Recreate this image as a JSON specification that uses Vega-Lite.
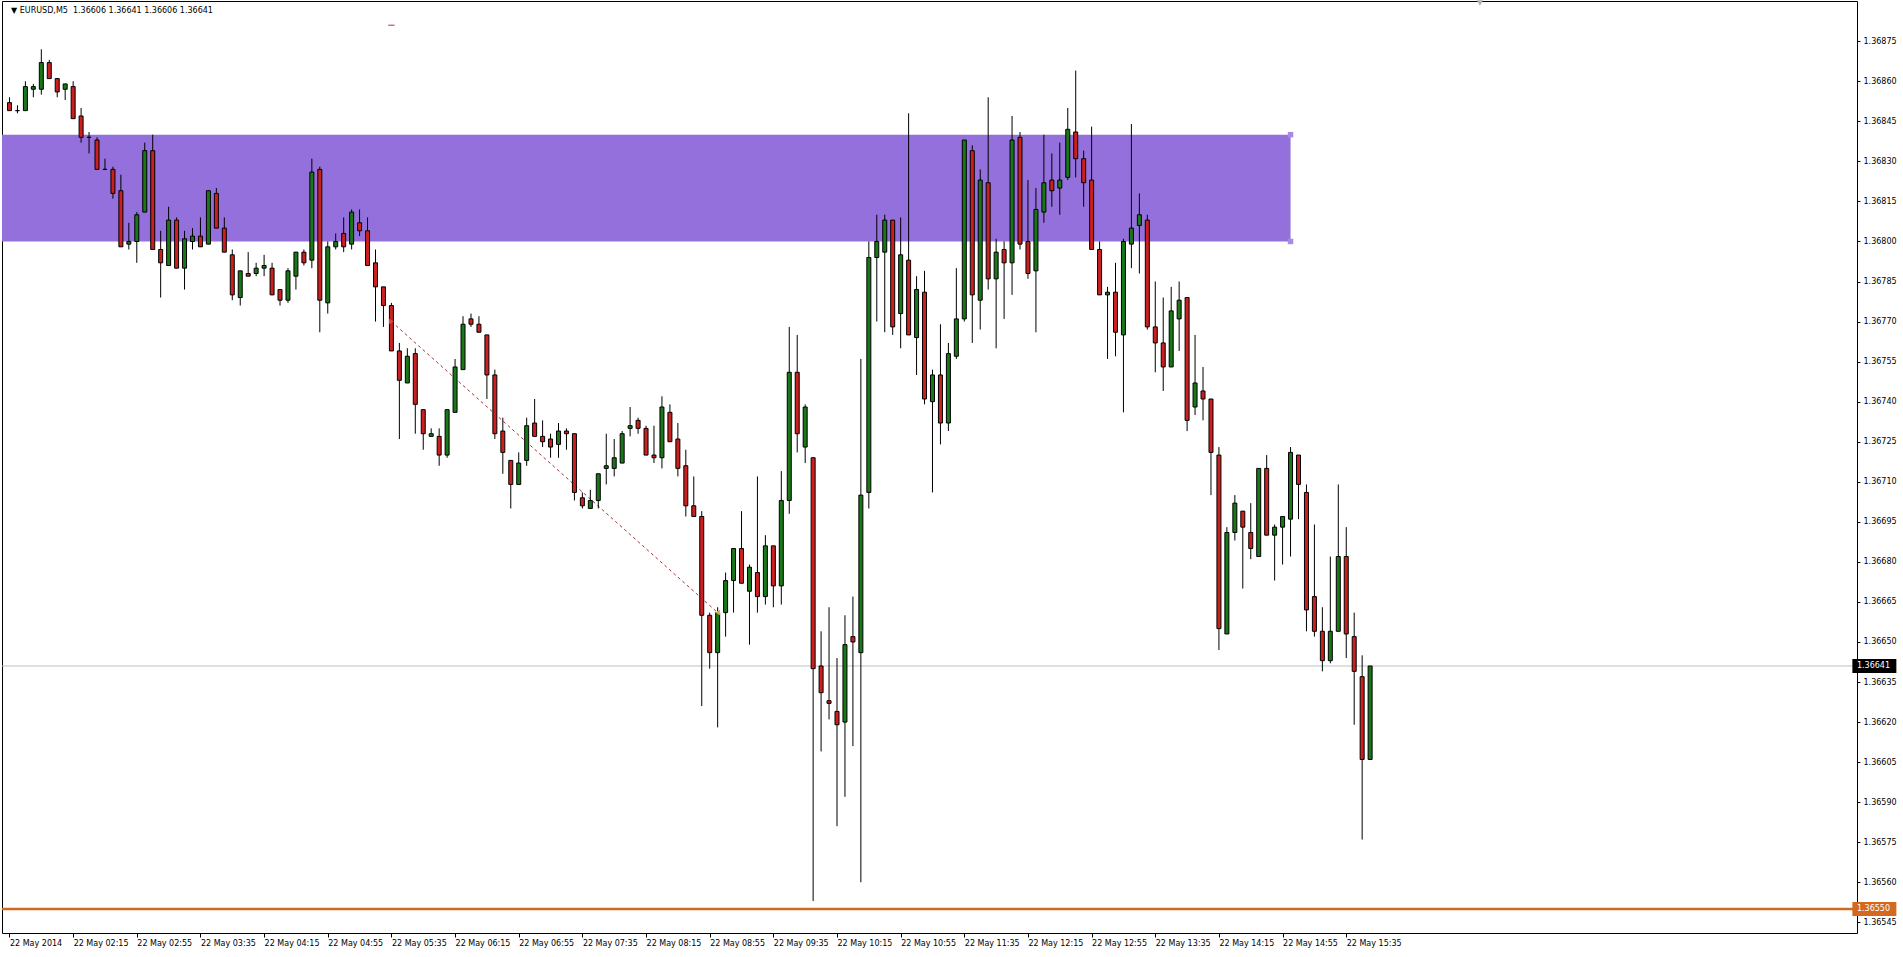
{
"$schema":"https://vega.github.io/schema/vega-lite/v6.json",
"width":1855,"height":932,
"autosize":{"type":"none"},
"padding":{"left":2,"top":1,"right":46,"bottom":24},
"background":"white",
"config":{"view":{"stroke":"#000000","strokeWidth":1},"font":"DejaVu Sans"},
"datasets":{"candles":[
{"t":"2014-05-22T01:35","o":1.36852,"h":1.36854,"l":1.36849,"c":1.36849},
{"t":"2014-05-22T01:40","o":1.36849,"h":1.36851,"l":1.36848,"c":1.36849},
{"t":"2014-05-22T01:45","o":1.36849,"h":1.36860,"l":1.36849,"c":1.36858},
{"t":"2014-05-22T01:50","o":1.36857,"h":1.36859,"l":1.36854,"c":1.36858},
{"t":"2014-05-22T01:55","o":1.36857,"h":1.36872,"l":1.36855,"c":1.36867},
{"t":"2014-05-22T02:00","o":1.36867,"h":1.36868,"l":1.36861,"c":1.36861},
{"t":"2014-05-22T02:05","o":1.36861,"h":1.36861,"l":1.36854,"c":1.36856},
{"t":"2014-05-22T02:10","o":1.36857,"h":1.36859,"l":1.36853,"c":1.36859},
{"t":"2014-05-22T02:15","o":1.36858,"h":1.36860,"l":1.36846,"c":1.36846},
{"t":"2014-05-22T02:20","o":1.36847,"h":1.36850,"l":1.36837,"c":1.36839},
{"t":"2014-05-22T02:25","o":1.36839,"h":1.36841,"l":1.36833,"c":1.36839},
{"t":"2014-05-22T02:30","o":1.36838,"h":1.36839,"l":1.36827,"c":1.36827},
{"t":"2014-05-22T02:35","o":1.36827,"h":1.36831,"l":1.36827,"c":1.36827},
{"t":"2014-05-22T02:40","o":1.36827,"h":1.36828,"l":1.36816,"c":1.36818},
{"t":"2014-05-22T02:45","o":1.36819,"h":1.36825,"l":1.36798,"c":1.36798},
{"t":"2014-05-22T02:50","o":1.36799,"h":1.36807,"l":1.36797,"c":1.36800},
{"t":"2014-05-22T02:55","o":1.36800,"h":1.36811,"l":1.36792,"c":1.36810},
{"t":"2014-05-22T03:00","o":1.36811,"h":1.36837,"l":1.36811,"c":1.36834},
{"t":"2014-05-22T03:05","o":1.36834,"h":1.36840,"l":1.36797,"c":1.36797},
{"t":"2014-05-22T03:10","o":1.36797,"h":1.36804,"l":1.36779,"c":1.36792},
{"t":"2014-05-22T03:15","o":1.36791,"h":1.36813,"l":1.36791,"c":1.36808},
{"t":"2014-05-22T03:20","o":1.36808,"h":1.36809,"l":1.36790,"c":1.36790},
{"t":"2014-05-22T03:25","o":1.36790,"h":1.36804,"l":1.36782,"c":1.36801},
{"t":"2014-05-22T03:30","o":1.36800,"h":1.36805,"l":1.36797,"c":1.36802},
{"t":"2014-05-22T03:35","o":1.36802,"h":1.36809,"l":1.36798,"c":1.36798},
{"t":"2014-05-22T03:40","o":1.36799,"h":1.36819,"l":1.36799,"c":1.36819},
{"t":"2014-05-22T03:45","o":1.36818,"h":1.36820,"l":1.36805,"c":1.36805},
{"t":"2014-05-22T03:50","o":1.36805,"h":1.36809,"l":1.36796,"c":1.36796},
{"t":"2014-05-22T03:55","o":1.36795,"h":1.36797,"l":1.36778,"c":1.36780},
{"t":"2014-05-22T04:00","o":1.36779,"h":1.36789,"l":1.36776,"c":1.36789},
{"t":"2014-05-22T04:05","o":1.36788,"h":1.36796,"l":1.36787,"c":1.36787},
{"t":"2014-05-22T04:10","o":1.36788,"h":1.36792,"l":1.36787,"c":1.36790},
{"t":"2014-05-22T04:15","o":1.36790,"h":1.36795,"l":1.36787,"c":1.36791},
{"t":"2014-05-22T04:20","o":1.36790,"h":1.36792,"l":1.36780,"c":1.36780},
{"t":"2014-05-22T04:25","o":1.36782,"h":1.36782,"l":1.36776,"c":1.36778},
{"t":"2014-05-22T04:30","o":1.36778,"h":1.36790,"l":1.36777,"c":1.36789},
{"t":"2014-05-22T04:35","o":1.36787,"h":1.36796,"l":1.36782,"c":1.36796},
{"t":"2014-05-22T04:40","o":1.36796,"h":1.36797,"l":1.36791,"c":1.36792},
{"t":"2014-05-22T04:45","o":1.36793,"h":1.36831,"l":1.36790,"c":1.36826},
{"t":"2014-05-22T04:50","o":1.36827,"h":1.36828,"l":1.36766,"c":1.36778},
{"t":"2014-05-22T04:55","o":1.36777,"h":1.36800,"l":1.36773,"c":1.36798},
{"t":"2014-05-22T05:00","o":1.36798,"h":1.36803,"l":1.36797,"c":1.36800},
{"t":"2014-05-22T05:05","o":1.36803,"h":1.36809,"l":1.36796,"c":1.36798},
{"t":"2014-05-22T05:10","o":1.36799,"h":1.36812,"l":1.36797,"c":1.36811},
{"t":"2014-05-22T05:15","o":1.36807,"h":1.36812,"l":1.36802,"c":1.36804},
{"t":"2014-05-22T05:20","o":1.36804,"h":1.36809,"l":1.36791,"c":1.36791},
{"t":"2014-05-22T05:25","o":1.36792,"h":1.36797,"l":1.36770,"c":1.36783},
{"t":"2014-05-22T05:30","o":1.36783,"h":1.36783,"l":1.36768,"c":1.36776},
{"t":"2014-05-22T05:35","o":1.36776,"h":1.36777,"l":1.36759,"c":1.36759},
{"t":"2014-05-22T05:40","o":1.36759,"h":1.36762,"l":1.36726,"c":1.36748},
{"t":"2014-05-22T05:45","o":1.36747,"h":1.36760,"l":1.36747,"c":1.36757},
{"t":"2014-05-22T05:50","o":1.36758,"h":1.36760,"l":1.36728,"c":1.36739},
{"t":"2014-05-22T05:55","o":1.36737,"h":1.36737,"l":1.36722,"c":1.36728},
{"t":"2014-05-22T06:00","o":1.36727,"h":1.36730,"l":1.36727,"c":1.36728},
{"t":"2014-05-22T06:05","o":1.36727,"h":1.36730,"l":1.36716,"c":1.36720},
{"t":"2014-05-22T06:10","o":1.36720,"h":1.36737,"l":1.36719,"c":1.36737},
{"t":"2014-05-22T06:15","o":1.36736,"h":1.36756,"l":1.36736,"c":1.36753},
{"t":"2014-05-22T06:20","o":1.36752,"h":1.36772,"l":1.36752,"c":1.36769},
{"t":"2014-05-22T06:25","o":1.36771,"h":1.36773,"l":1.36768,"c":1.36769},
{"t":"2014-05-22T06:30","o":1.36769,"h":1.36772,"l":1.36766,"c":1.36766},
{"t":"2014-05-22T06:35","o":1.36765,"h":1.36765,"l":1.36741,"c":1.36750},
{"t":"2014-05-22T06:40","o":1.36750,"h":1.36752,"l":1.36726,"c":1.36728},
{"t":"2014-05-22T06:45","o":1.36729,"h":1.36734,"l":1.36713,"c":1.36721},
{"t":"2014-05-22T06:50","o":1.36718,"h":1.36718,"l":1.36700,"c":1.36709},
{"t":"2014-05-22T06:55","o":1.36709,"h":1.36721,"l":1.36709,"c":1.36717},
{"t":"2014-05-22T07:00","o":1.36718,"h":1.36734,"l":1.36716,"c":1.36731},
{"t":"2014-05-22T07:05","o":1.36732,"h":1.36741,"l":1.36727,"c":1.36727},
{"t":"2014-05-22T07:10","o":1.36727,"h":1.36733,"l":1.36723,"c":1.36725},
{"t":"2014-05-22T07:15","o":1.36726,"h":1.36728,"l":1.36719,"c":1.36723},
{"t":"2014-05-22T07:20","o":1.36724,"h":1.36732,"l":1.36719,"c":1.36729},
{"t":"2014-05-22T07:25","o":1.36729,"h":1.36730,"l":1.36722,"c":1.36728},
{"t":"2014-05-22T07:30","o":1.36728,"h":1.36728,"l":1.36703,"c":1.36706},
{"t":"2014-05-22T07:35","o":1.36704,"h":1.36706,"l":1.36700,"c":1.36701},
{"t":"2014-05-22T07:40","o":1.36700,"h":1.36707,"l":1.36700,"c":1.36703},
{"t":"2014-05-22T07:45","o":1.36703,"h":1.36713,"l":1.36700,"c":1.36713},
{"t":"2014-05-22T07:50","o":1.36715,"h":1.36728,"l":1.36709,"c":1.36716},
{"t":"2014-05-22T07:55","o":1.36715,"h":1.36726,"l":1.36712,"c":1.36719},
{"t":"2014-05-22T08:00","o":1.36717,"h":1.36729,"l":1.36717,"c":1.36728},
{"t":"2014-05-22T08:05","o":1.36730,"h":1.36738,"l":1.36727,"c":1.36731},
{"t":"2014-05-22T08:10","o":1.36733,"h":1.36734,"l":1.36728,"c":1.36730},
{"t":"2014-05-22T08:15","o":1.36730,"h":1.36731,"l":1.36720,"c":1.36720},
{"t":"2014-05-22T08:20","o":1.36720,"h":1.36731,"l":1.36717,"c":1.36719},
{"t":"2014-05-22T08:25","o":1.36719,"h":1.36742,"l":1.36715,"c":1.36738},
{"t":"2014-05-22T08:30","o":1.36736,"h":1.36739,"l":1.36725,"c":1.36725},
{"t":"2014-05-22T08:35","o":1.36726,"h":1.36732,"l":1.36712,"c":1.36715},
{"t":"2014-05-22T08:40","o":1.36716,"h":1.36722,"l":1.36697,"c":1.36701},
{"t":"2014-05-22T08:45","o":1.36701,"h":1.36712,"l":1.36697,"c":1.36697},
{"t":"2014-05-22T08:50","o":1.36697,"h":1.36699,"l":1.36626,"c":1.36660},
{"t":"2014-05-22T08:55","o":1.36660,"h":1.36661,"l":1.36640,"c":1.36646},
{"t":"2014-05-22T09:00","o":1.36646,"h":1.36663,"l":1.36618,"c":1.36661},
{"t":"2014-05-22T09:05","o":1.36661,"h":1.36676,"l":1.36652,"c":1.36673},
{"t":"2014-05-22T09:10","o":1.36673,"h":1.36685,"l":1.36661,"c":1.36685},
{"t":"2014-05-22T09:15","o":1.36685,"h":1.36699,"l":1.36672,"c":1.36672},
{"t":"2014-05-22T09:20","o":1.36669,"h":1.36679,"l":1.36649,"c":1.36678},
{"t":"2014-05-22T09:25","o":1.36676,"h":1.36712,"l":1.36661,"c":1.36667},
{"t":"2014-05-22T09:30","o":1.36667,"h":1.36690,"l":1.36664,"c":1.36686},
{"t":"2014-05-22T09:35","o":1.36686,"h":1.36686,"l":1.36663,"c":1.36671},
{"t":"2014-05-22T09:40","o":1.36671,"h":1.36714,"l":1.36664,"c":1.36703},
{"t":"2014-05-22T09:45","o":1.36703,"h":1.36768,"l":1.36698,"c":1.36751},
{"t":"2014-05-22T09:50","o":1.36751,"h":1.36765,"l":1.36721,"c":1.36728},
{"t":"2014-05-22T09:55","o":1.36723,"h":1.36739,"l":1.36717,"c":1.36738},
{"t":"2014-05-22T10:00","o":1.36719,"h":1.36719,"l":1.36553,"c":1.36640},
{"t":"2014-05-22T10:05","o":1.36641,"h":1.36654,"l":1.36609,"c":1.36631},
{"t":"2014-05-22T10:10","o":1.36628,"h":1.36663,"l":1.36621,"c":1.36627},
{"t":"2014-05-22T10:15","o":1.36624,"h":1.36644,"l":1.36581,"c":1.36619},
{"t":"2014-05-22T10:20","o":1.36620,"h":1.36660,"l":1.36592,"c":1.36649},
{"t":"2014-05-22T10:25","o":1.36652,"h":1.36667,"l":1.36611,"c":1.36650},
{"t":"2014-05-22T10:30","o":1.36646,"h":1.36756,"l":1.36560,"c":1.36705},
{"t":"2014-05-22T10:35","o":1.36706,"h":1.36800,"l":1.36700,"c":1.36794},
{"t":"2014-05-22T10:40","o":1.36794,"h":1.36810,"l":1.36770,"c":1.36800},
{"t":"2014-05-22T10:45","o":1.36796,"h":1.36810,"l":1.36766,"c":1.36808},
{"t":"2014-05-22T10:50","o":1.36808,"h":1.36808,"l":1.36765,"c":1.36768},
{"t":"2014-05-22T10:55","o":1.36773,"h":1.36809,"l":1.36760,"c":1.36795},
{"t":"2014-05-22T11:00","o":1.36793,"h":1.36848,"l":1.36765,"c":1.36765},
{"t":"2014-05-22T11:05","o":1.36764,"h":1.36787,"l":1.36750,"c":1.36782},
{"t":"2014-05-22T11:10","o":1.36781,"h":1.36789,"l":1.36739,"c":1.36741},
{"t":"2014-05-22T11:15","o":1.36740,"h":1.36752,"l":1.36706,"c":1.36750},
{"t":"2014-05-22T11:20","o":1.36750,"h":1.36769,"l":1.36724,"c":1.36732},
{"t":"2014-05-22T11:25","o":1.36732,"h":1.36762,"l":1.36729,"c":1.36758},
{"t":"2014-05-22T11:30","o":1.36757,"h":1.36790,"l":1.36756,"c":1.36771},
{"t":"2014-05-22T11:35","o":1.36771,"h":1.36838,"l":1.36770,"c":1.36838},
{"t":"2014-05-22T11:40","o":1.36834,"h":1.36836,"l":1.36762,"c":1.36780},
{"t":"2014-05-22T11:45","o":1.36778,"h":1.36827,"l":1.36767,"c":1.36823},
{"t":"2014-05-22T11:50","o":1.36822,"h":1.36854,"l":1.36782,"c":1.36786},
{"t":"2014-05-22T11:55","o":1.36786,"h":1.36801,"l":1.36760,"c":1.36796},
{"t":"2014-05-22T12:00","o":1.36797,"h":1.36800,"l":1.36771,"c":1.36792},
{"t":"2014-05-22T12:05","o":1.36792,"h":1.36847,"l":1.36780,"c":1.36838},
{"t":"2014-05-22T12:10","o":1.36839,"h":1.36841,"l":1.36797,"c":1.36799},
{"t":"2014-05-22T12:15","o":1.36800,"h":1.36823,"l":1.36786,"c":1.36788},
{"t":"2014-05-22T12:20","o":1.36789,"h":1.36820,"l":1.36766,"c":1.36812},
{"t":"2014-05-22T12:25","o":1.36811,"h":1.36840,"l":1.36807,"c":1.36822},
{"t":"2014-05-22T12:30","o":1.36823,"h":1.36833,"l":1.36813,"c":1.36819},
{"t":"2014-05-22T12:35","o":1.36820,"h":1.36837,"l":1.36810,"c":1.36823},
{"t":"2014-05-22T12:40","o":1.36824,"h":1.36850,"l":1.36823,"c":1.36842},
{"t":"2014-05-22T12:45","o":1.36841,"h":1.36864,"l":1.36824,"c":1.36831},
{"t":"2014-05-22T12:50","o":1.36831,"h":1.36834,"l":1.36813,"c":1.36822},
{"t":"2014-05-22T12:55","o":1.36823,"h":1.36843,"l":1.36797,"c":1.36797},
{"t":"2014-05-22T13:00","o":1.36797,"h":1.36800,"l":1.36780,"c":1.36780},
{"t":"2014-05-22T13:05","o":1.36780,"h":1.36783,"l":1.36756,"c":1.36781},
{"t":"2014-05-22T13:10","o":1.36781,"h":1.36792,"l":1.36757,"c":1.36766},
{"t":"2014-05-22T13:15","o":1.36765,"h":1.36801,"l":1.36736,"c":1.36800},
{"t":"2014-05-22T13:20","o":1.36799,"h":1.36844,"l":1.36790,"c":1.36805},
{"t":"2014-05-22T13:25","o":1.36806,"h":1.36818,"l":1.36788,"c":1.36810},
{"t":"2014-05-22T13:30","o":1.36808,"h":1.36810,"l":1.36767,"c":1.36768},
{"t":"2014-05-22T13:35","o":1.36768,"h":1.36785,"l":1.36751,"c":1.36762},
{"t":"2014-05-22T13:40","o":1.36762,"h":1.36779,"l":1.36744,"c":1.36753},
{"t":"2014-05-22T13:45","o":1.36753,"h":1.36783,"l":1.36753,"c":1.36774},
{"t":"2014-05-22T13:50","o":1.36771,"h":1.36785,"l":1.36759,"c":1.36778},
{"t":"2014-05-22T13:55","o":1.36779,"h":1.36779,"l":1.36729,"c":1.36733},
{"t":"2014-05-22T14:00","o":1.36738,"h":1.36765,"l":1.36735,"c":1.36747},
{"t":"2014-05-22T14:05","o":1.36744,"h":1.36753,"l":1.36733,"c":1.36741},
{"t":"2014-05-22T14:10","o":1.36741,"h":1.36741,"l":1.36705,"c":1.36721},
{"t":"2014-05-22T14:15","o":1.36720,"h":1.36723,"l":1.36647,"c":1.36655},
{"t":"2014-05-22T14:20","o":1.36653,"h":1.36693,"l":1.36653,"c":1.36691},
{"t":"2014-05-22T14:25","o":1.36691,"h":1.36705,"l":1.36688,"c":1.36702},
{"t":"2014-05-22T14:30","o":1.36699,"h":1.36699,"l":1.36670,"c":1.36693},
{"t":"2014-05-22T14:35","o":1.36691,"h":1.36702,"l":1.36681,"c":1.36685},
{"t":"2014-05-22T14:40","o":1.36682,"h":1.36715,"l":1.36682,"c":1.36715},
{"t":"2014-05-22T14:45","o":1.36715,"h":1.36720,"l":1.36690,"c":1.36690},
{"t":"2014-05-22T14:50","o":1.36690,"h":1.36694,"l":1.36673,"c":1.36693},
{"t":"2014-05-22T14:55","o":1.36693,"h":1.36697,"l":1.36679,"c":1.36697},
{"t":"2014-05-22T15:00","o":1.36696,"h":1.36723,"l":1.36682,"c":1.36721},
{"t":"2014-05-22T15:05","o":1.36720,"h":1.36720,"l":1.36696,"c":1.36709},
{"t":"2014-05-22T15:10","o":1.36706,"h":1.36709,"l":1.36654,"c":1.36662},
{"t":"2014-05-22T15:15","o":1.36667,"h":1.36694,"l":1.36652,"c":1.36654},
{"t":"2014-05-22T15:20","o":1.36654,"h":1.36663,"l":1.36639,"c":1.36643},
{"t":"2014-05-22T15:25","o":1.36643,"h":1.36682,"l":1.36642,"c":1.36654},
{"t":"2014-05-22T15:30","o":1.36654,"h":1.36709,"l":1.36654,"c":1.36682},
{"t":"2014-05-22T15:35","o":1.36682,"h":1.36693,"l":1.36644,"c":1.36653},
{"t":"2014-05-22T15:40","o":1.36652,"h":1.36661,"l":1.36619,"c":1.36639},
{"t":"2014-05-22T15:45","o":1.36637,"h":1.36645,"l":1.36576,"c":1.36606},
{"t":"2014-05-22T15:50","o":1.36606,"h":1.36641,"l":1.36606,"c":1.36641}
]},
"layer":[
{"data":{"values":[{"t0":"2014-05-22T01:00","t1":"2014-05-22T15:00","p0":1.368,"p1":1.3684}]},
 "mark":{"type":"rect","color":"#9370DB","opacity":1,"clip":true},
 "encoding":{
  "x":{"field":"t0","type":"temporal","scale":{"domain":[{"year":2014,"month":5,"date":22,"hours":1,"minutes":33,"seconds":26,"milliseconds":250},{"year":2014,"month":5,"date":22,"hours":20,"minutes":52,"seconds":48,"milliseconds":750}],"nice":false},
   "axis":{"values":[{"year":2014,"month":5,"date":22,"hours":1,"minutes":35},{"year":2014,"month":5,"date":22,"hours":2,"minutes":15},{"year":2014,"month":5,"date":22,"hours":2,"minutes":55},{"year":2014,"month":5,"date":22,"hours":3,"minutes":35},{"year":2014,"month":5,"date":22,"hours":4,"minutes":15},{"year":2014,"month":5,"date":22,"hours":4,"minutes":55},{"year":2014,"month":5,"date":22,"hours":5,"minutes":35},{"year":2014,"month":5,"date":22,"hours":6,"minutes":15},{"year":2014,"month":5,"date":22,"hours":6,"minutes":55},{"year":2014,"month":5,"date":22,"hours":7,"minutes":35},{"year":2014,"month":5,"date":22,"hours":8,"minutes":15},{"year":2014,"month":5,"date":22,"hours":8,"minutes":55},{"year":2014,"month":5,"date":22,"hours":9,"minutes":35},{"year":2014,"month":5,"date":22,"hours":10,"minutes":15},{"year":2014,"month":5,"date":22,"hours":10,"minutes":55},{"year":2014,"month":5,"date":22,"hours":11,"minutes":35},{"year":2014,"month":5,"date":22,"hours":12,"minutes":15},{"year":2014,"month":5,"date":22,"hours":12,"minutes":55},{"year":2014,"month":5,"date":22,"hours":13,"minutes":35},{"year":2014,"month":5,"date":22,"hours":14,"minutes":15},{"year":2014,"month":5,"date":22,"hours":14,"minutes":55},{"year":2014,"month":5,"date":22,"hours":15,"minutes":35}],
    "format":"%d %b %H:%M","labelExpr":"datum.index == 0 ? '22 May 2014' : datum.label",
    "grid":false,"domain":false,"ticks":true,"tickSize":4,"tickColor":"#000000","labelAlign":"left","labelBaseline":"top","labelPadding":2,"labelFont":"DejaVu Sans","labelFontSize":8,"labelColor":"#000000","labelFlush":false,"labelOverlap":false,"title":null}},
  "x2":{"field":"t1"},
  "y":{"field":"p0","type":"quantitative","scale":{"domain":[1.36541,1.3689006],"nice":false,"zero":false},
   "axis":{"orient":"right","values":[1.36545,1.3656,1.36575,1.3659,1.36605,1.3662,1.36635,1.3665,1.36665,1.3668,1.36695,1.3671,1.36725,1.3674,1.36755,1.3677,1.36785,1.368,1.36815,1.3683,1.36845,1.3686,1.36875],
    "format":".5f","grid":false,"domain":false,"ticks":true,"tickSize":3,"tickColor":"#000000","labelAlign":"left","labelBaseline":"middle","labelPadding":3,"labelFont":"DejaVu Sans","labelFontSize":8,"labelColor":"#000000","labelFlush":false,"labelOverlap":false,"title":null}},
  "y2":{"field":"p1"}}},
{"data":{"values":[{"t":"2014-05-22T15:00","p":1.3684},{"t":"2014-05-22T15:00","p":1.368}]},
 "mark":{"type":"point","shape":"square","filled":true,"opacity":1,"size":30,"color":"#A58BE6","clip":true},
 "encoding":{"x":{"field":"t","type":"temporal"},"y":{"field":"p","type":"quantitative"}}},
{"data":{"values":[{"p":1.36641}]},
 "mark":{"type":"rule","color":"#C0C0C0","strokeWidth":1},
 "encoding":{"y":{"field":"p","type":"quantitative"}}},
{"data":{"values":[{"p":1.3655}]},
 "mark":{"type":"rule","color":"#D2691E","strokeWidth":2.5},
 "encoding":{"y":{"field":"p","type":"quantitative"}}},
{"data":{"values":[{"t":"2014-05-22T05:35","p":1.3677},{"t":"2014-05-22T09:00","p":1.36661}]},
 "mark":{"type":"line","color":"#A83232","strokeWidth":1,"strokeDash":[3,3],"clip":true},
 "encoding":{"x":{"field":"t","type":"temporal"},"y":{"field":"p","type":"quantitative"}}},
{"data":{"name":"candles"},
 "mark":{"type":"rule","color":"#000000","strokeWidth":1,"clip":true},
 "encoding":{"x":{"field":"t","type":"temporal"},"y":{"field":"l","type":"quantitative"},"y2":{"field":"h"}}},
{"data":{"name":"candles"},
 "mark":{"type":"bar","width":4,"stroke":"#000000","strokeWidth":1,"clip":true},
 "encoding":{"x":{"field":"t","type":"temporal"},"y":{"field":"o","type":"quantitative"},"y2":{"field":"c"},
  "fill":{"condition":{"test":"datum.c >= datum.o","value":"#187818"},"value":"#CC1F1F"}}},
{"data":{"values":[{"t":"2014-05-22T05:35","p":1.3677,"kind":"open"}]},
 "mark":{"type":"point","shape":"triangle-right","filled":true,"opacity":1,"size":30,"color":"#E04848","clip":true},
 "encoding":{"x":{"field":"t","type":"temporal"},"y":{"field":"p","type":"quantitative"}}},
{"data":{"values":[{"t":"2014-05-22T09:00","p":1.36661,"kind":"close"}]},
 "mark":{"type":"point","shape":"triangle-left","filled":true,"opacity":1,"size":30,"color":"#D4B04A","clip":true},
 "encoding":{"x":{"field":"t","type":"temporal"},"y":{"field":"p","type":"quantitative"}}},
{"data":{"values":[{"t0":"2014-05-22T05:33","t1":"2014-05-22T05:37","p":1.36881}]},
 "mark":{"type":"rule","color":"#C03030","strokeWidth":1},
 "encoding":{"x":{"field":"t0","type":"temporal"},"x2":{"field":"t1"},"y":{"field":"p","type":"quantitative"}}},
{"data":{"values":[{"txt":"▼ EURUSD,M5\u00a0 1.36606 1.36641 1.36606 1.36641"}]},
 "mark":{"type":"text","align":"left","baseline":"middle","font":"DejaVu Sans","fontSize":8,"color":"#000000"},
 "encoding":{"x":{"datum":{"year":2014,"month":5,"date":22,"hours":1,"minutes":36},"type":"temporal"},"y":{"datum":1.368864,"type":"quantitative"},"text":{"field":"txt"}}},
{"data":{"values":[{"kind":"shift"}]},
 "mark":{"type":"point","shape":"triangle-down","filled":true,"opacity":1,"size":40,"color":"#B0B0B0","clip":false},
 "encoding":{"x":{"datum":{"year":2014,"month":5,"date":22,"hours":16,"minutes":59},"type":"temporal"},"y":{"datum":1.368893,"type":"quantitative"}}},
{"data":{"values":[{"p":1.36641,"lbl":"1.36641","kind":"bid"},{"p":1.3655,"lbl":"1.36550","kind":"level"}]},
 "mark":{"type":"point","shape":"M-1,-0.32H1V0.32H-1Z","filled":true,"opacity":1,"size":1936,"clip":false},
 "encoding":{"x":{"datum":{"year":2014,"month":5,"date":22,"hours":21,"minutes":6,"seconds":52},"type":"temporal"},"y":{"field":"p","type":"quantitative"},
  "fill":{"field":"kind","type":"nominal","scale":{"domain":["bid","level"],"range":["#000000","#D2691E"]},"legend":null}}},
{"data":{"values":[{"p":1.36641,"lbl":"1.36641"},{"p":1.3655,"lbl":"1.36550"}]},
 "mark":{"type":"text","align":"left","baseline":"middle","font":"DejaVu Sans","fontSize":8,"color":"#FFFFFF","clip":false},
 "encoding":{"x":{"datum":{"year":2014,"month":5,"date":22,"hours":20,"minutes":55,"seconds":56},"type":"temporal"},"y":{"field":"p","type":"quantitative"},"text":{"field":"lbl"}}}
]
}
